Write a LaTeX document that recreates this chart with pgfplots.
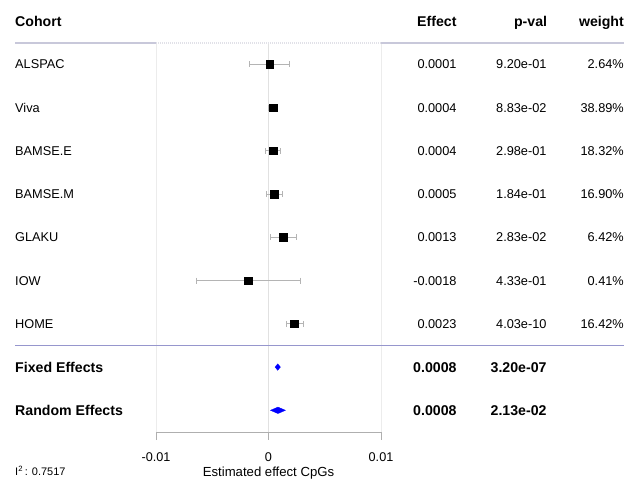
\documentclass[border=0pt]{standalone}
\usepackage{pgfplots}
\pgfplotsset{compat=1.18}
\usepackage{pgfplotstable}
\usepackage{fontspec}
\setmainfont{Liberation Sans}

\definecolor{hdrline}{RGB}{200,200,218}
\definecolor{hdrlight}{RGB}{225,225,232}
\definecolor{sepline}{RGB}{150,150,205}
\definecolor{errgray}{RGB}{180,180,180}
\definecolor{gridgray}{RGB}{236,236,236}
\definecolor{zerogray}{RGB}{225,225,225}
\definecolor{axgray}{RGB}{175,175,175}

\newcommand{\rg}{\fontsize{12.8}{15}\selectfont}
\newcommand{\bd}{\fontsize{14.2}{17}\selectfont\bfseries}
\newcommand{\tk}{\fontsize{12.7}{15}\selectfont}
\newcommand{\sm}{\fontsize{11}{13}\selectfont}

\pgfplotstableread{
row est
1 0.0001
2 0.0004
3 0.0004
4 0.0005
5 0.0013
6 -0.0018
7 0.0023
}\cohorts

\begin{document}
\begin{tikzpicture}[every node/.style={inner sep=0pt}]
\begin{axis}[
  width=639bp, height=477bp, scale only axis,
  xmin=-0.023867, xmax=0.032933,
  ymin=-0.4867, ymax=10.542,
  y dir=reverse,
  axis lines=none,
  clip=false,
  ci/.style={errgray, line width=0.8bp, mark=|, mark size=3bp, mark options={solid, errgray, line width=0.8bp}},
]
\path (axis cs:-0.023867,-0.4867) rectangle (axis cs:0.032933,10.542);

% vertical reference lines
\draw[gridgray, line width=0.8bp] (axis cs:-0.01,0.5) -- (axis cs:-0.01,9.52);
\draw[zerogray, line width=0.9bp] (axis cs:0,0.5) -- (axis cs:0,9.52);
\draw[gridgray, line width=0.8bp] (axis cs:0.01,0.5) -- (axis cs:0.01,9.52);

% header line
\draw[hdrline, line width=2bp] (axis cs:-0.022533,0.5) -- (axis cs:-0.01,0.5);
\draw[hdrlight, line width=2bp, dash pattern=on 1bp off 1bp] (axis cs:-0.01,0.5) -- (axis cs:0.01,0.5);
\draw[hdrline, line width=2bp] (axis cs:0.01,0.5) -- (axis cs:0.0316,0.5);

% separator line
\draw[sepline, line width=1.2bp] (axis cs:-0.022533,7.51) -- (axis cs:0.0316,7.51);

% bottom axis
\draw[axgray, line width=0.9bp] (axis cs:-0.01,9.69) -- (axis cs:-0.01,9.52) -- (axis cs:0.01,9.52) -- (axis cs:0.01,9.69);
\draw[axgray, line width=0.9bp] (axis cs:0,9.52) -- (axis cs:0,9.69);

% confidence intervals
\addplot[ci] coordinates {(-0.0017,1) (0.0019,1)};
\addplot[ci] coordinates {(0.0000,2) (0.0008,2)};
\addplot[ci] coordinates {(-0.0003,3) (0.0011,3)};
\addplot[ci] coordinates {(-0.0002,4) (0.0012,4)};
\addplot[ci] coordinates {(0.0002,5) (0.0025,5)};
\addplot[ci] coordinates {(-0.0064,6) (0.0028,6)};
\addplot[ci] coordinates {(0.0016,7) (0.0031,7)};

% cohort estimates
\addplot[only marks, mark=square*, mark size=3.7bp, black] table[x=est, y=row] {\cohorts};

% pooled diamonds
\addplot[blue, fill=blue, line width=0.3bp] coordinates {(0.00058,8) (0.00082,7.925) (0.00106,8) (0.00082,8.075)} -- cycle;
\addplot[blue, fill=blue, line width=0.3bp] coordinates {(0.00017,9) (0.00084,8.925) (0.00151,9) (0.00084,9.075)} -- cycle;

% header
\node[anchor=base west] at (axis cs:-0.022533,0.125) {\bd Cohort};
\node[anchor=base east] at (axis cs:0.016729,0.125) {\bd Effect};
\node[anchor=base east] at (axis cs:0.02478,0.125) {\bd p-val};
\node[anchor=base east] at (axis cs:0.0316,0.125) {\bd weight};

% rows
\node[anchor=base west] at (axis cs:-0.022533,1.106) {\rg ALSPAC};
\node[anchor=base west] at (axis cs:-0.022533,2.106) {\rg Viva};
\node[anchor=base west] at (axis cs:-0.022533,3.106) {\rg BAMSE.E};
\node[anchor=base west] at (axis cs:-0.022533,4.106) {\rg BAMSE.M};
\node[anchor=base west] at (axis cs:-0.022533,5.106) {\rg GLAKU};
\node[anchor=base west] at (axis cs:-0.022533,6.106) {\rg IOW};
\node[anchor=base west] at (axis cs:-0.022533,7.106) {\rg HOME};
\node[anchor=base west] at (axis cs:-0.022533,8.118) {\bd Fixed Effects};
\node[anchor=base west] at (axis cs:-0.022533,9.118) {\bd Random Effects};

\node[anchor=base east] at (axis cs:0.016729,1.106) {\rg 0.0001};
\node[anchor=base east] at (axis cs:0.016729,2.106) {\rg 0.0004};
\node[anchor=base east] at (axis cs:0.016729,3.106) {\rg 0.0004};
\node[anchor=base east] at (axis cs:0.016729,4.106) {\rg 0.0005};
\node[anchor=base east] at (axis cs:0.016729,5.106) {\rg 0.0013};
\node[anchor=base east] at (axis cs:0.016729,6.106) {\rg -0.0018};
\node[anchor=base east] at (axis cs:0.016729,7.106) {\rg 0.0023};
\node[anchor=base east] at (axis cs:0.016729,8.118) {\bd 0.0008};
\node[anchor=base east] at (axis cs:0.016729,9.118) {\bd 0.0008};

\node[anchor=base east] at (axis cs:0.024729,1.106) {\rg 9.20e-01};
\node[anchor=base east] at (axis cs:0.024729,2.106) {\rg 8.83e-02};
\node[anchor=base east] at (axis cs:0.024729,3.106) {\rg 2.98e-01};
\node[anchor=base east] at (axis cs:0.024729,4.106) {\rg 1.84e-01};
\node[anchor=base east] at (axis cs:0.024729,5.106) {\rg 2.83e-02};
\node[anchor=base east] at (axis cs:0.024729,6.106) {\rg 4.33e-01};
\node[anchor=base east] at (axis cs:0.024729,7.106) {\rg 4.03e-10};
\node[anchor=base east] at (axis cs:0.024729,8.118) {\bd 3.20e-07};
\node[anchor=base east] at (axis cs:0.024729,9.118) {\bd 2.13e-02};

\node[anchor=base east] at (axis cs:0.0316,1.106) {\rg 2.64\%};
\node[anchor=base east] at (axis cs:0.0316,2.106) {\rg 38.89\%};
\node[anchor=base east] at (axis cs:0.0316,3.106) {\rg 18.32\%};
\node[anchor=base east] at (axis cs:0.0316,4.106) {\rg 16.90\%};
\node[anchor=base east] at (axis cs:0.0316,5.106) {\rg 6.42\%};
\node[anchor=base east] at (axis cs:0.0316,6.106) {\rg 0.41\%};
\node[anchor=base east] at (axis cs:0.0316,7.106) {\rg 16.42\%};

% tick labels and axis label
\node[anchor=base] at (axis cs:-0.01,10.189) {\tk -0.01};
\node[anchor=base] at (axis cs:0,10.189) {\tk 0};
\node[anchor=base] at (axis cs:0.01,10.189) {\tk 0.01};
\node[anchor=base] at (axis cs:0,10.52) {\fontsize{13.2}{15}\selectfont Estimated effect CpGs};
\node[anchor=base west] at (axis cs:-0.022533,10.515) {\sm I\textsuperscript{2}\,: 0.7517};
\end{axis}
\end{tikzpicture}
\end{document}
